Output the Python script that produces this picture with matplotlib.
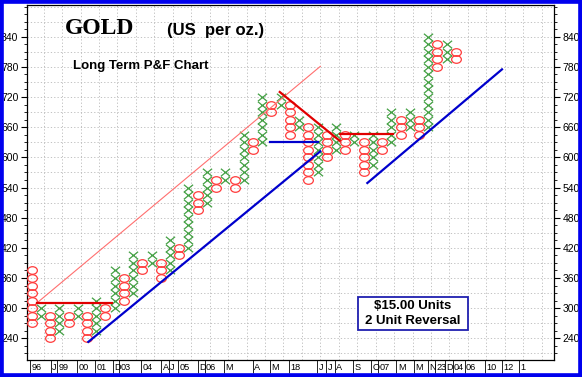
import numpy as np
import matplotlib
matplotlib.use('Agg')
import matplotlib.pyplot as plt
from matplotlib.path import Path
from matplotlib.transforms import Affine2D
from matplotlib.patches import Rectangle

plt.rcParams['font.family'] = ['Liberation Sans', 'DejaVu Sans']

# P&F columns: even index = O column, odd index = X column
col_low = [270, 285, 240, 255, 270, 285, 240, 255, 285, 300,
           315, 330, 375, 390, 360, 375, 405, 420, 495, 510,
           540, 555, 540, 555, 615, 630, 690, 705, 645, 660,
           555, 570, 600, 615, 615, 630, 570, 585, 615, 630,
           645, 660, 645, 660, 780, 795, 795]
col_high = [375, 300, 285, 300, 285, 300, 285, 315, 300, 375,
            360, 405, 390, 405, 390, 435, 420, 540, 525, 570,
            555, 570, 555, 645, 630, 720, 705, 720, 705, 675,
            660, 660, 645, 660, 645, 645, 630, 645, 630, 690,
            675, 690, 675, 840, 825, 825, 810]
box = 15

# date strip along the bottom (label, column)
date_labels = ['96', 'J', '99', '00', '01', 'D', '03', '04', 'A', 'J', '05',
               'D', '06', 'M', 'A', 'M', '18', 'J', 'J', 'A', 'S', 'O', '07',
               'M', 'M', 'N', '23', 'D', '04', '06', '10', '12', '1']
date_cols = [0.1, 2.3, 3.0, 5.2, 7.1, 9.1, 9.7, 12.1, 14.3, 15.1, 16.1,
             18.25, 19.0, 21.1, 24.2, 26.1, 28.2, 31.2, 32.2, 33.1, 35.1, 37.05, 37.8,
             39.8, 41.7, 43.2, 44.0, 45.1, 45.9, 47.2, 49.4, 51.3, 53.1]

# trend lines ((col, price), (col, price))
thin_red = [(0.54, 310), (31.3, 781)]
red_lines = [[(0.54, 310), (8.7, 310)],
             [(26.9, 730), (33.4, 633)],
             [(33.4, 647), (39.2, 647)]]
blue_lines = [[(6.14, 233), (31.3, 612)],
              [(25.8, 630), (31.1, 630)],
              [(36.4, 549), (51.0, 775)]]

fig = plt.figure(figsize=(5.82, 3.77), dpi=100)
fig.patch.set_facecolor('white')
ax = fig.add_axes([26.7 / 582, 17 / 377, (554 - 26.7) / 582, 355 / 377])
ax.set_xlim(-0.54, 56.64)
ax.set_ylim(197, 903)

# markers
xmark = Path([(-1, -0.82), (1, 0.82), (-1, 0.82), (1, -0.82)],
             [Path.MOVETO, Path.LINETO, Path.MOVETO, Path.LINETO])
omark = Path.unit_circle().transformed(Affine2D().scale(1, 0.78))

xs_x, xs_y, os_x, os_y = [], [], [], []
for i, (lo, hi) in enumerate(zip(col_low, col_high)):
    vals = np.arange(lo, hi + 1, box)
    if i % 2 == 0:
        os_x += [i] * len(vals)
        os_y += list(vals)
    else:
        xs_x += [i] * len(vals)
        xs_y += list(vals)

ax.plot(xs_x, xs_y, linestyle='none', marker=xmark, markersize=6.6,
        markeredgecolor='#44a044', markeredgewidth=0.9, zorder=3)
ax.plot(os_x, os_y, linestyle='none', marker=omark, markersize=7.0,
        markerfacecolor='none', markeredgecolor='#ff3b3b', markeredgewidth=0.9, zorder=3)

# trend lines
ax.plot(*zip(*thin_red), color='#ff6f6f', lw=0.8, zorder=4)
for seg in red_lines:
    ax.plot(*zip(*seg), color='#e00000', lw=1.6, zorder=4)
for seg in blue_lines:
    ax.plot(*zip(*seg), color='#0000cc', lw=1.6, zorder=4)

# grid
for gy in range(210, 901, 30):
    ax.axhline(gy, color='#b8b8b8', lw=0.6, ls=(0, (1.5, 2.5)), zorder=0)
for gx in np.arange(1.3, 56.6, 2):
    ax.axvline(gx, color='#b8b8b8', lw=0.6, ls=(0, (1.5, 2.5)), zorder=0)

# y axis both sides
ax.set_yticks(range(240, 841, 60))
ax.set_yticks(range(210, 901, 15), minor=True)
ax.tick_params(axis='y', which='both', left=True, right=True,
               labelleft=True, labelright=True, labelsize=7.5, pad=2)
ax.tick_params(axis='y', which='major', length=4, width=0.8)
ax.tick_params(axis='y', which='minor', length=2, width=0.6)

# date strip
sep = [c - 0.25 for c in date_cols]
ax.set_xticks(sep)
ax.set_xticklabels([])
ax.tick_params(axis='x', which='major', length=9, width=0.6, direction='out')
for lab, c in zip(date_labels, date_cols):
    ax.text(c - 0.1, -0.008, lab, transform=ax.get_xaxis_transform(), ha='left', va='top',
            fontsize=6.6, clip_on=False)

for s in ax.spines.values():
    s.set_linewidth(0.9)

# titles
fig.text(65 / 582, 1 - 28 / 377, 'GOLD', family='Liberation Serif', fontweight='bold',
         fontsize=17, ha='left', va='center')
fig.text(167 / 582, 1 - 30 / 377, '(US  per oz.)', fontweight='bold',
         fontsize=12, ha='left', va='center')
fig.text(73 / 582, 1 - 66 / 377, 'Long Term P&F Chart', fontweight='bold',
         fontsize=9.5, ha='left', va='center')

# units box
fig.add_artist(Rectangle((358 / 582, 1 - 330 / 377), 110 / 582, 33 / 377,
                         transform=fig.transFigure, fill=True, facecolor='white',
                         edgecolor='#2020b0', linewidth=1.3, zorder=5))
fig.text(413 / 582, 1 - 306 / 377, '$15.00 Units', fontweight='bold', fontsize=9.5,
         ha='center', va='center', zorder=6)
fig.text(413 / 582, 1 - 321 / 377, '2 Unit Reversal', fontweight='bold', fontsize=9.5,
         ha='center', va='center', zorder=6)

# blue frame round the picture
fig.add_artist(Rectangle((0, 0), 1, 1, transform=fig.transFigure, fill=False,
                         edgecolor='#0000ee', linewidth=5.5))

fig.savefig('out.png', dpi=100)
